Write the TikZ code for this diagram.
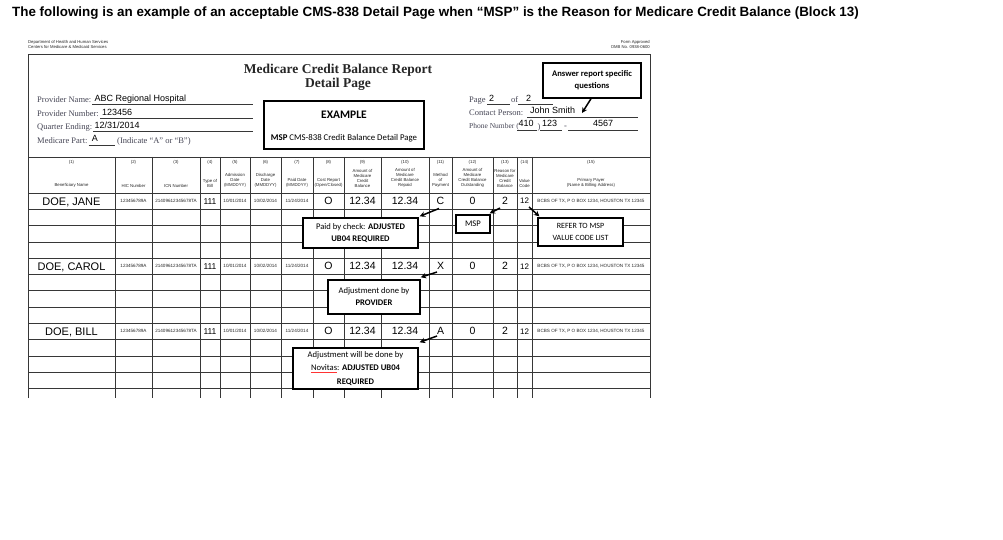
\documentclass[tikz,border=0pt]{standalone}
\usepackage{fontspec}
\setmainfont{Liberation Serif}
\newfontfamily\arialf{Liberation Sans}
\newfontfamily\calf{Carlito}
\usetikzlibrary{arrows.meta}
\definecolor{formtxt}{RGB}{70,70,85}
\definecolor{gridc}{RGB}{55,55,55}
\newcommand\datarow[4]{%
  \node[nm] (n#4) at (71.5,#3+4) {#1};
  \node[tn] at (133.5,#3+1.7) {123456789A};
  \node[tn] at (176,#3+1.7) {21409612345678TA};
  \node[bg,font=\arialf\fontsize{8.5}{9}\selectfont] at (210,#3+3.1) {111};
  \node[tn] at (235,#3+1.7) {10/01/2014};
  \node[tn] at (265.5,#3+1.7) {10/02/2014};
  \node[tn] at (297,#3+1.7) {11/24/2014};
  \node[bg] at (328.5,#3+3.8) {O};
  \node[bg] at (362.5,#3+3.8) {12.34};
  \node[bg] at (405,#3+3.8) {12.34};
  \node[bg] (m#4) at (440.5,#3+3.8) {#2};
  \node[bg] at (472.5,#3+3.8) {0};
  \node[bg] (r#4) at (505,#3+3.8) {2};
  \node[bg,font=\arialf\fontsize{8}{9}\selectfont] (v#4) at (524.5,#3+3) {12};
  \node[tn] at (591,#3+1.7) {BCBS OF TX, P O BOX 1234, HOUSTON TX 12345};
}
\begin{document}
\begin{tikzpicture}[x=1pt,y=-1pt,
  formline/.style={draw=gridc,line width=0.75pt},
  lbl/.style={font=\fontsize{8.5}{10}\selectfont,text=formtxt,inner sep=0,anchor=base west},
  val/.style={font=\arialf\fontsize{9}{10}\selectfont,inner sep=0,anchor=base west},
  hdr/.style={font=\arialf\fontsize{4.3}{5}\selectfont,align=center,inner sep=0,text=black!85,anchor=south},
  hnum/.style={font=\arialf\fontsize{4.3}{5}\selectfont,inner sep=0,text=black!85},
  nm/.style={font=\arialf\fontsize{11}{12}\selectfont,inner sep=0,anchor=base},
  bg/.style={font=\arialf\fontsize{10.5}{12}\selectfont,inner sep=0,anchor=base},
  tn/.style={font=\arialf\fontsize{4.6}{5}\selectfont,inner sep=0,anchor=base,text=black!85},
  callout/.style={draw=black,line width=1.4pt,fill=white,inner sep=0,align=center,
     font=\calf\fontsize{8.6}{12.8}\selectfont},
  arr/.style={-{Stealth[length=5.5pt,width=5.5pt]},line width=1.5pt}]
\fill[white] (0,0) rectangle (1003,540);
\useasboundingbox (0,0) rectangle (1003,540);

% title
\node[anchor=base west,inner sep=0,font=\arialf\bfseries\fontsize{13.4}{15}\selectfont] (title) at (12,17)
 {The following is an example of an acceptable CMS-838 Detail Page when “MSP” is the Reason for Medicare Credit Balance (Block 13)};

% agency lines
\node[hnum,anchor=base west,font=\arialf\fontsize{4.2}{5}\selectfont] (dep1) at (28,43.5) {Department of Health and Human Services};
\node[hnum,anchor=base west,font=\arialf\fontsize{4.2}{5}\selectfont] (dep2) at (28,49) {Centers for Medicare \& Medicaid Services};
\node[hnum,anchor=base east,font=\arialf\fontsize{4.2}{5}\selectfont] (fa1) at (650,43.5) {Form Approved};
\node[hnum,anchor=base east,font=\arialf\fontsize{4.2}{5}\selectfont] (fa2) at (650,49) {OMB No. 0938-0600};

% form frame and grid
\draw[formline] (28,398) -- (28,54) -- (650,54) -- (650,398);
\draw[formline] (28,157) -- (650,157);
\foreach \yy in {193,209,225,242,258,274,290,307,323,339,356,372,388}
  \draw[formline] (28,\yy) -- (650,\yy);
\foreach \xx in {115,152,200,220,250,281,313,344,381,429,452,493,517,532}
  \draw[formline] (\xx,157) -- (\xx,398);

% report title
\node[inner sep=0,anchor=base,font=\bfseries\fontsize{13.5}{15}\selectfont,text=black!85] (rt1) at (338,74) {Medicare Credit Balance Report};
\node[inner sep=0,anchor=base,font=\bfseries\fontsize{13.5}{15}\selectfont,text=black!85] (rt2) at (338,88) {Detail Page};

% left fields
\node[lbl] (l1) at (37,103) {Provider Name:};
\node[val,anchor=base west] (v1) at ([xshift=3pt,yshift=1pt]l1.base east) {ABC Regional Hospital};
\draw[formline,line width=0.5pt] (l1.base east) ++(1,1.5) -- (253,104.5);
\node[lbl] (l2) at (37,116.5) {Provider Number:};
\node[val] (v2) at ([xshift=3pt,yshift=1pt]l2.base east) {123456};
\draw[formline,line width=0.5pt] (l2.base east) ++(1,1.5) -- (253,118);
\node[lbl] (l3) at (37,130) {Quarter Ending:};
\node[val] (v3) at ([xshift=2pt,yshift=1pt]l3.base east) {12/31/2014};
\draw[formline,line width=0.5pt] (l3.base east) ++(1,1.5) -- (253,131.5);
\node[lbl] (l4) at (37,143.5) {Medicare Part:};
\node[val] (v4) at ([xshift=4pt,yshift=1.5pt]l4.base east) {A};
\draw[formline,line width=0.5pt] (l4.base east) ++(1,1.5) -- ++(26,0);
\node[lbl] (l4b) at (117,143.5) {(Indicate “A” or “B”)};

% right fields
\node[lbl] (p1) at (469,103) {Page};
\node[val] (pv1) at (489,101.5) {2};
\draw[formline,line width=0.5pt] (487,104.5) -- (510,104.5);
\node[lbl] (p2) at (511,103) {of};
\node[val] (pv2) at (526,101.5) {2};
\draw[formline,line width=0.5pt] (518,104.5) -- (553,104.5);
\node[lbl] (c1) at (469,116) {Contact Person:};
\node[val] (cv1) at (530,114) {John Smith};
\draw[formline,line width=0.5pt] (527,117.5) -- (638,117.5);
\node[lbl,font=\fontsize{7.5}{9}\selectfont] (ph) at (469,129) {Phone Number (};
\node[val] (ph1) at (518.5,127) {410};
\node[lbl] (ph2) at (537.5,129.5) {)};
\node[val] (ph3) at (542,127) {123};
\node[lbl] (ph4) at (564,129) {-};
\node[val] (ph5) at (593,127) {4567};
\draw[formline,line width=0.5pt] (517,130.5) -- (537,130.5);
\draw[formline,line width=0.5pt] (540,130.5) -- (562,130.5);
\draw[formline,line width=0.5pt] (568,130.5) -- (638,130.5);

% column headers
\foreach \cx/\nn/\tx in {
  71.5/1/{Beneficiary Name},
  133.5/2/{HIC Number},
  176/3/{ICN Number},
  210/4/{Type of\\Bill},
  235/5/{Admission\\Date\\(MMDDYY)},
  265.5/6/{Discharge\\Date\\(MMDDYY)},
  297/7/{Paid Date\\(MMDDYY)},
  328.5/8/{Cost Report\\(Open/Closed)},
  362.5/9/{Amount of\\Medicare\\Credit\\Balance},
  405/10/{Amount of\\Medicare\\Credit Balance\\Repaid},
  440.5/11/{Method\\of\\Payment},
  472.5/12/{Amount of\\Medicare\\Credit Balance\\Outstanding},
  505/13/{Reason for\\Medicare\\Credit\\Balance},
  524.5/14/{Value\\Code},
  591/15/{Primary Payer\\(Name \& Billing Address)}}
{
  \node[hnum] (hn\nn) at (\cx,162.5) {(\nn)};
  \node[hdr] (ht\nn) at (\cx,188) {\tx};
}

% data rows
\datarow{DOE, JANE}{C}{201}{a}
\datarow{DOE, CAROL}{X}{266}{b}
\datarow{DOE, BILL}{A}{331}{c}

% callout boxes
\node[callout,minimum width=98pt,minimum height=35pt,font=\calf\bfseries\fontsize{8.6}{12}\selectfont] (ans) at (592,80.5)
  {Answer report specific\\questions};
\node[callout,minimum width=160pt,minimum height=48pt] (ex) at (344,125) {};
\node[inner sep=0,font=\calf\bfseries\fontsize{11.5}{12}\selectfont] (ext) at (344,114.5) {EXAMPLE};
\node[inner sep=0,font=\calf\fontsize{8.8}{10}\selectfont] (exs) at (344,138) {\textbf{MSP} CMS-838 Credit Balance Detail Page};

\node[callout,minimum width=115pt,minimum height=30pt] (paid) at (360.5,233)
  {Paid by check: \textbf{ADJUSTED}\\\textbf{UB04 REQUIRED}};
\node[callout,minimum width=34pt,minimum height=18pt,line width=1.2pt] (msp) at (473,224) {MSP};
\node[callout,minimum width=85pt,minimum height=28pt,line width=1.2pt,font=\calf\fontsize{8}{12.8}\selectfont] (refer) at (580.5,232)
  {REFER TO MSP\\VALUE CODE LIST};
\node[callout,minimum width=92pt,minimum height=34pt,font=\calf\fontsize{8.6}{12}\selectfont] (prov) at (374,297)
  {Adjustment done by\\\textbf{PROVIDER}};
\node[callout,minimum width=125pt,minimum height=41pt,font=\calf\fontsize{8.6}{13.3}\selectfont] (nov) at (355.5,368.5)
  {Adjustment will be done by\\{\color{red!80}\underline{\color{black}Novitas}}: \textbf{ADJUSTED UB04}\\\textbf{REQUIRED}};

% arrows
\coordinate (js) at (582,113);
\draw[arr] ([xshift=-1pt]ans.south) -- (js);
\coordinate (ta) at (439,208.5);
\draw[arr] (ta) -- ([shift={(1,-1)}]paid.north east);
\coordinate (tr) at (500,208);
\draw[arr] (tr) -- ([shift={(-1,-1)}]msp.north east);
\coordinate (tv) at (529,207);
\draw[arr] (tv) -- ([shift={(2,-1)}]refer.north west);
\coordinate (tb) at (437,272);
\draw[arr] (tb) -- ([shift={(0,-2)}]prov.north east);
\coordinate (tc) at (437,336);
\draw[arr] (tc) -- ([shift={(1,-5)}]nov.north east);
\end{tikzpicture}
\end{document}
